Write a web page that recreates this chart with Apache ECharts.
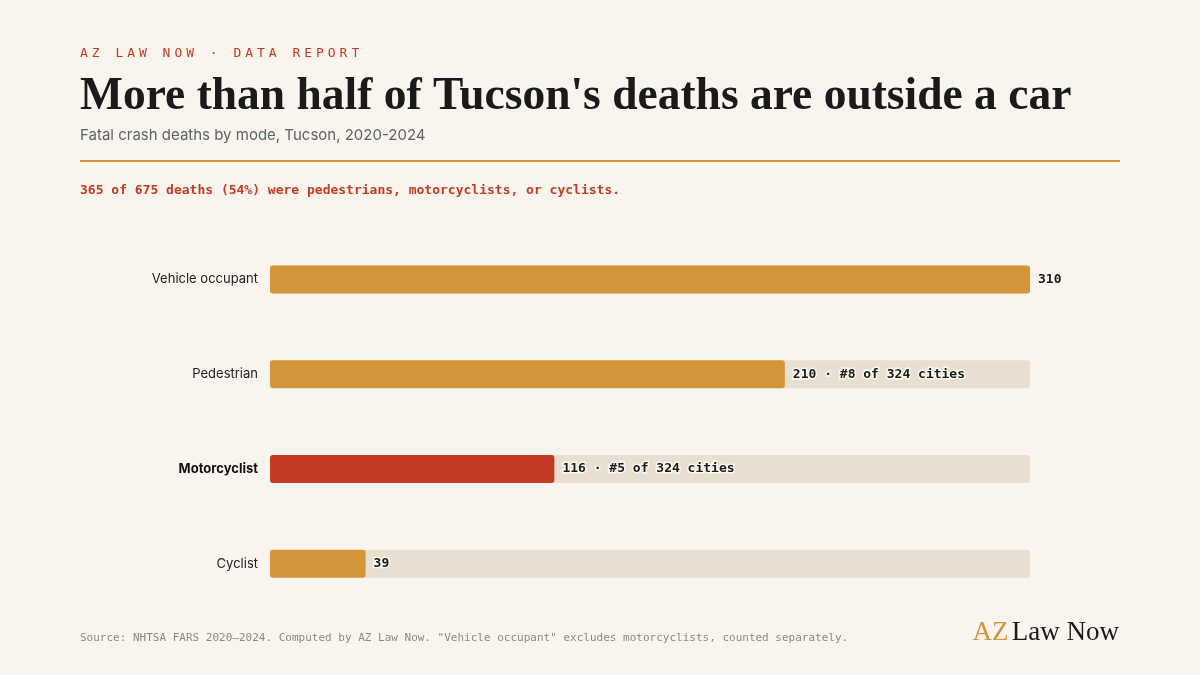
<!DOCTYPE html>
<html><head><meta charset="utf-8">
<script src="https://cdn.jsdelivr.net/npm/echarts@6/dist/echarts.min.js"></script>
<style>html,body{margin:0;padding:0;background:#f9f5ee}#c{width:1200px;height:675px}</style>
</head><body><div id="c"></div>
<script>
const categories = ['Vehicle occupant', 'Pedestrian', 'Motorcyclist', 'Cyclist'];
const deaths = [310, 210, 116, 39];
const cityRanks = [null, 8, 5, null];
const citiesTotal = 324;
const highlight = 'Motorcyclist';
const axisMax = 310;

const ORANGE = '#d4943a', RED = '#c23b22', TRACK = '#e8dfd0', BG = '#f9f5ee';
const chart = echarts.init(document.getElementById('c'));

const kicker = 'AZ LAW NOW · DATA REPORT';
const kickerEls = kicker.split('').map((ch, i) => ({
  type: 'text', left: 80 + i * 11.8, top: 47,
  style: { text: ch, font: '13px "DejaVu Sans Mono"', fill: RED }
}));

chart.setOption({
  backgroundColor: BG,
  animation: false,
  grid: { left: 270, right: 170, top: 232, bottom: 64 },
  xAxis: { type: 'value', min: 0, max: axisMax, show: false },
  yAxis: {
    type: 'category', data: categories, inverse: true,
    axisLine: { show: false }, axisTick: { show: false },
    axisLabel: {
      margin: 12, fontFamily: 'Inter', fontSize: 13, color: '#222',
      formatter: v => v === highlight ? '{b|' + v + '}' : v,
      rich: { b: { fontFamily: 'Inter', fontSize: 13, fontWeight: 'bold', color: '#111' } }
    }
  },
  series: [{
    type: 'bar', barWidth: 28,
    showBackground: true,
    backgroundStyle: { color: TRACK, borderRadius: 3 },
    data: deaths.map((v, i) => ({
      value: v,
      itemStyle: { color: categories[i] === highlight ? RED : ORANGE, borderRadius: 3 }
    })),
    label: {
      show: true, position: 'right', distance: 8,
      fontFamily: 'DejaVu Sans Mono', fontWeight: 'bold', fontSize: 13, color: '#1a1a1a',
      textBorderColor: '#fbf8f2', textBorderWidth: 3,
      formatter: p => {
        const r = cityRanks[p.dataIndex];
        return r ? p.value + ' · #' + r + ' of ' + citiesTotal + ' cities' : String(p.value);
      }
    }
  }],
  graphic: [
    ...kickerEls,
    { type: 'text', left: 80, top: 74,
      style: { text: "More than half of Tucson's deaths are outside a car", font: 'bold 45.5px "Liberation Serif"', fill: '#1a1a1a' } },
    { type: 'text', left: 80, top: 128,
      style: { text: 'Fatal crash deaths by mode, Tucson, 2020-2024', font: '15px Inter', fill: '#5b6463' } },
    { type: 'rect', shape: { x: 80, y: 160, width: 1040, height: 2 }, style: { fill: ORANGE } },
    { type: 'text', left: 80, top: 184,
      style: { text: '365 of 675 deaths (54%) were pedestrians, motorcyclists, or cyclists.', font: 'bold 13px "DejaVu Sans Mono"', fill: RED } },
    { type: 'text', left: 80, top: 633,
      style: { text: 'Source: NHTSA FARS 2020–2024. Computed by AZ Law Now. "Vehicle occupant" excludes motorcyclists, counted separately.', font: '11px "DejaVu Sans Mono"', fill: '#8a8a85' } },
    { type: 'text', right: 81, top: 619,
      style: { text: '{a|AZ} {b|Law Now}', rich: {
        a: { font: '27px "Liberation Serif"', fill: ORANGE, color: ORANGE },
        b: { font: '27px "Liberation Serif"', fill: '#1a1a1a', color: '#1a1a1a' } } } }
  ]
});
</script></body></html>
